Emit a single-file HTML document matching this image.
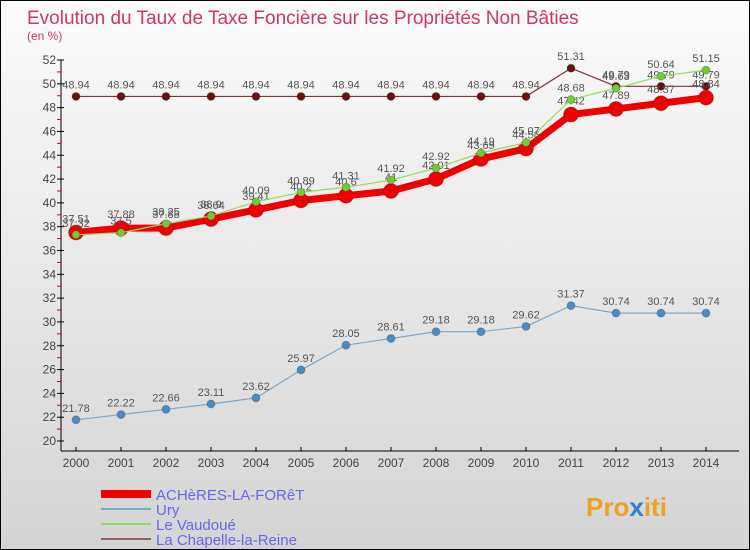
<!DOCTYPE html>
<html><head><meta charset="utf-8"><style>
body{margin:0;}
#wrap{width:750px;height:550px;position:relative;background:linear-gradient(#fbfbfb,#d4d4d4);border:1px solid #000;box-sizing:border-box;overflow:hidden;font-family:"Liberation Sans",sans-serif;}
</style></head><body>
<div id="wrap">
<svg id="chart" width="750" height="550">
<text x="26" y="23" font-size="19" fill="#c8386a">Evolution du Taux de Taxe Foncière sur les Propriétés Non Bâties</text>
<text x="26" y="39" font-size="12" fill="#c8386a">(en %)</text>
<g id="axes"></g><g id="series"></g><g id="legend"></g>
<text x="585" y="515" font-size="26" font-weight="bold" fill="#f0a020">Pro<tspan fill="#3080d0">x</tspan>iti</text>
</svg>
</div>
<script>
const years=[2000,2001,2002,2003,2004,2005,2006,2007,2008,2009,2010,2011,2012,2013,2014];
const acheres=[37.51,37.88,37.88,38.64,39.41,40.2,40.6,41,42.01,43.69,44.56,47.42,47.89,48.37,48.84];
const ury=[21.78,22.22,22.66,23.11,23.62,25.97,28.05,28.61,29.18,29.18,29.62,31.37,30.74,30.74,30.74];
const vaudoue=[37.32,37.5,38.25,38.9,40.09,40.89,41.31,41.92,42.92,44.19,45.07,48.68,49.63,50.64,51.15];
const chapelle=[48.94,48.94,48.94,48.94,48.94,48.94,48.94,48.94,48.94,48.94,48.94,51.31,49.79,49.79,49.79];
const yTicks=[20,22,24,26,28,30,32,34,36,38,40,42,44,46,48,50,52];
const NS="http://www.w3.org/2000/svg";
const X=i=>75+i*45;
const Y=v=>440-(v-20)*11.906;
function mk(tag,attrs,parent){const e=document.createElementNS(NS,tag);for(const k in attrs)e.setAttribute(k,attrs[k]);parent.appendChild(e);return e;}
const axes=document.getElementById('axes');
let l=mk('line',{x1:60,y1:Y(52),x2:60,y2:450,stroke:'#000'},axes);


l=mk('line',{x1:60,y1:450,x2:738,y2:450,stroke:'#000'},axes);


yTicks.forEach(t=>{
  mk('line',{x1:56,y1:Y(t),x2:63,y2:Y(t),stroke:'#000'},axes);
  if(t<52) mk('line',{x1:56,y1:Y(t+1),x2:60,y2:Y(t+1),stroke:'#e00000'},axes);
  const tx=mk('text',{x:55,y:Y(t)+4,'font-size':12,fill:'#444','text-anchor':'end'},axes);
  tx.textContent=t;
  
  
});
years.forEach((yr,i)=>{
  mk('line',{x1:X(i),y1:446,x2:X(i),y2:450,stroke:'#000'},axes);
  const tx=mk('text',{x:X(i),y:466,'font-size':12,fill:'#444','text-anchor':'middle'},axes);
  tx.textContent=yr;
  
  
});
const ser=document.getElementById('series');
function draw(data,name,color,w,r,dot,lblDy){
  const g=mk('g',{},ser);
  
  
  const p=mk('polyline',{points:data.map((v,i)=>X(i)+','+Y(v)).join(' '),fill:'none',stroke:color,'stroke-width':w,'stroke-linejoin':'round'},g);
  
  
  data.forEach((v,i)=>{
    const c=mk('circle',{cx:X(i),cy:Y(v),r:r,fill:dot,stroke:'rgba(0,0,0,0.2)'},g);
    
    
    const t=mk('text',{x:X(i),y:Y(v)+lblDy,'font-size':11,fill:'#555','text-anchor':'middle'},g);
    t.textContent=v;
    
    
  });
}
draw(chapelle,'la-chapelle','#7a3535',1.2,4,'#6a1010',-8);
draw(ury,'ury','#7aa8cc',1.2,4,'#4a8cc8',-8);
draw(acheres,'acheres','#f00000',7,7.5,'#f00000',-10);
draw(vaudoue,'vaudoue','#90dd60',1.2,4,'#70cc30',-8);
const leg=document.getElementById('legend');
const items=[['ACHèRES-LA-FORêT','#f00000',8],['Ury','#7aa8cc',2],['Le Vaudoué','#90dd60',2],['La Chapelle-la-Reine','#956060',2]];
items.forEach((it,k)=>{
  const y=493+k*15;
  const g=mk('g',{},leg);
  
  
  mk('line',{x1:100,y1:y,x2:150,y2:y,stroke:it[1],'stroke-width':it[2]},g);
  const t=mk('text',{x:155,y:y+6,'font-size':15,fill:'#6666ee'},g);
  t.textContent=it[0];
});
</script>
</body></html>
